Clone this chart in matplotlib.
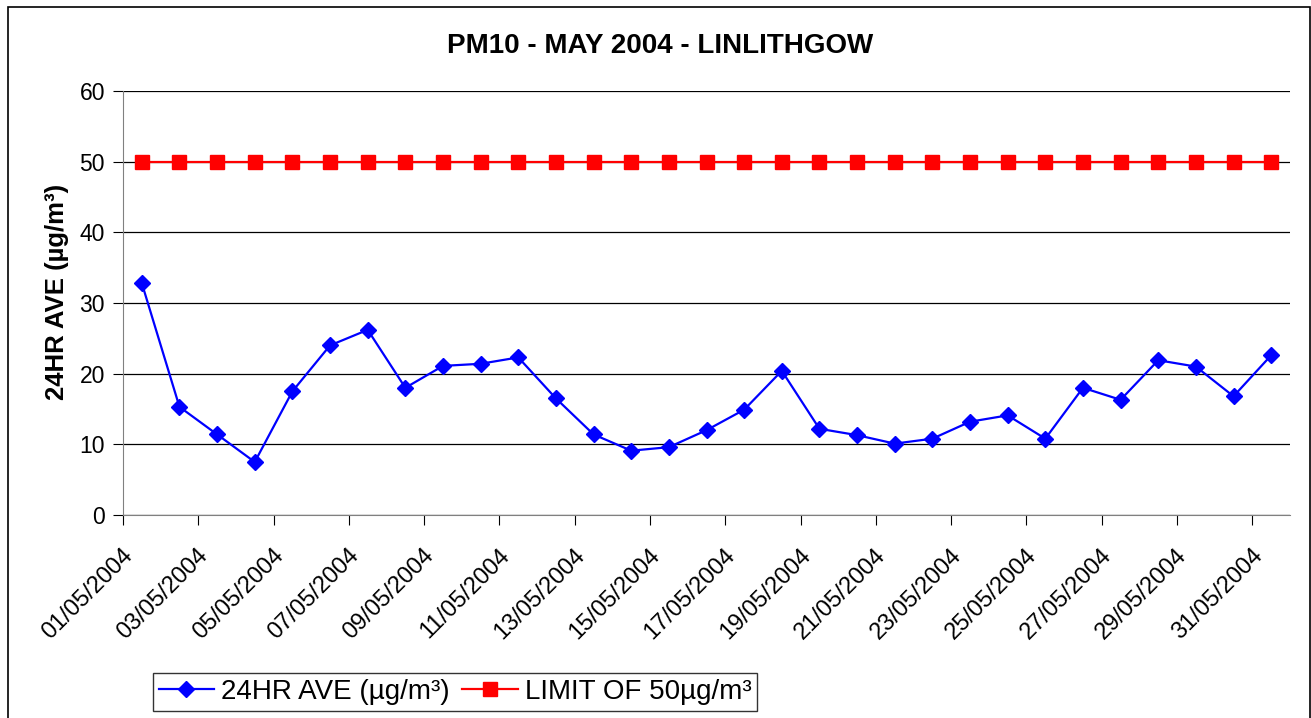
import numpy as np
import matplotlib
matplotlib.use("Agg")
import matplotlib.pyplot as plt
from matplotlib.patches import Rectangle
from matplotlib.transforms import ScaledTranslation

plt.rcParams['font.family'] = ['Liberation Sans', 'DejaVu Sans']

dates = ["%02d/05/2004" % d for d in range(1, 32)]
ave = [32.8, 15.3, 11.4, 7.5, 17.5, 24.0, 26.2, 18.0, 21.1, 21.4, 22.3,
       16.5, 11.4, 9.1, 9.6, 12.0, 14.9, 20.4, 12.2, 11.3, 10.1, 10.8,
       13.2, 14.1, 10.8, 18.0, 16.3, 21.9, 21.0, 16.8, 22.6]
limit = [50] * 31

title = "PM10 - MAY 2004 - LINLITHGOW"
ylabel = "24HR AVE (µg/m³)"
ave_label = "24HR AVE (µg/m³)"
limit_label = "LIMIT OF 50µg/m³"

fig = plt.figure(figsize=(13.11, 7.18), dpi=100)
ax = fig.add_axes([123 / 1311, 1 - 515 / 718, (1290 - 123) / 1311, (515 - 91) / 718])

x = np.arange(len(dates))
l1, = ax.plot(x, ave, color='#0000ff', lw=1.6, marker='D', ms=8, label=ave_label, zorder=3)
l2, = ax.plot(x, limit, color='#ff0000', lw=1.6, marker='s', ms=9.5, label=limit_label, zorder=3)

ax.set_xlim(-0.5, len(dates) - 0.5)
ax.set_ylim(0, 60)
ax.set_yticks(range(0, 61, 10))
ax.yaxis.grid(True, color='black', lw=0.9)
ax.set_axisbelow(True)

# tick marks at category boundaries, labels on every other category
ax.set_xticks(np.arange(-0.5, len(dates) - 1, 2))
ax.set_xticklabels([])
ax.set_xticks(x[::2], minor=True)
ax.set_xticklabels(dates[::2], minor=True, rotation=45, ha='right',
                   rotation_mode='anchor', fontsize=17)
ax.tick_params(axis='x', which='minor', length=0, pad=21)
ax.tick_params(axis='x', which='major', length=7, color='black', direction='out')
ax.tick_params(axis='y', length=7, labelsize=16.5, color='black', direction='out', pad=6)
for lab in ax.get_xticklabels(minor=True):
    lab.set_transform(lab.get_transform() + ScaledTranslation(-0.2, 0, fig.dpi_scale_trans))

for s in ['top', 'right']:
    ax.spines[s].set_visible(False)
ax.spines['left'].set_color('#808080')
ax.spines['bottom'].set_color('#808080')

fig.text(57 / 1311, 1 - 292 / 718, ylabel, rotation=90, ha='center', va='center',
         fontsize=18.5, fontweight='bold')
fig.text(660 / 1311, 1 - 46 / 718, title, ha='center', va='center', fontsize=20, fontweight='bold')

leg = fig.legend(handles=[l1, l2], loc='center left', bbox_to_anchor=(153 / 1311, 1 - 692 / 718),
                 ncol=2, fontsize=20, frameon=True, fancybox=False, edgecolor='black',
                 handlelength=2.0, columnspacing=0.45, handletextpad=0.25, borderpad=0.2,
                 borderaxespad=0)
leg.get_frame().set_linewidth(1.0)

fig.patches.append(Rectangle((8 / 1311, -0.05), (1310 - 8) / 1311, 1.05 - 7 / 718,
                             transform=fig.transFigure, fill=False, edgecolor='black', lw=1.2))

fig.savefig("out.png", dpi=100)
